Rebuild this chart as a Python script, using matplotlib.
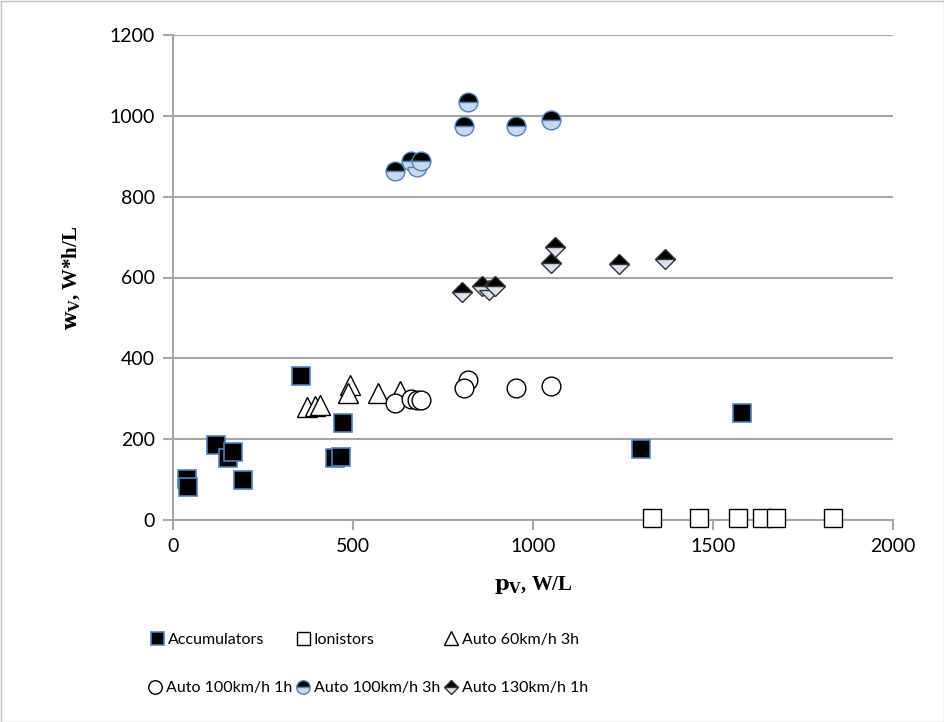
import matplotlib
matplotlib.use("Agg")
import matplotlib.pyplot as plt
from matplotlib.lines import Line2D
from matplotlib.patches import Rectangle

plt.rcParams["mathtext.fontset"] = "dejavuserif"

# ---- data ----
acc_x = [40, 42, 119, 153, 167, 195, 356, 472, 450, 467, 1300, 1580]
acc_y = [101, 82, 185, 153, 168, 99, 356, 239, 153, 156, 175, 265]

ion_x = [1330, 1460, 1570, 1636, 1675, 1833]
ion_y = [4, 4, 4, 4, 4, 4]

a60_x = [372, 394, 408, 492, 486, 570, 631]
a60_y = [279, 281, 284, 333, 313, 313, 318]

a100h1_x = [617, 661, 678, 689, 819, 808, 953, 1050]
a100h1_y = [289, 299, 296, 298, 346, 326, 326, 331]

a100h3_x = [617, 661, 678, 689, 808, 819, 953, 1050]
a100h3_y = [864, 888, 873, 888, 975, 1035, 975, 990]

a130_x = [802, 857, 877, 895, 1050, 1062, 1240, 1368]
a130_y = [563, 578, 570, 578, 635, 675, 633, 645]

x_ticks = [0, 500, 1000, 1500, 2000]
y_ticks = [0, 200, 400, 600, 800, 1000, 1200]

series_labels = ["Accumulators", "Ionistors", "Auto 60km/h 3h",
                 "Auto 100km/h 1h", "Auto 100km/h 3h", "Auto 130km/h 1h"]

# ---- styles ----
blue_edge = "#4F81BD"
light_blue = "#C6D9F1"
tick_font = "Lato"
serif = "Liberation Serif"

fig = plt.figure(figsize=(9.45, 7.22), dpi=100)
ax = fig.add_axes([173/945, 1-520/722, 720/945, (520-35)/722])

styles = [
    dict(marker="s", ms=13, mfc="black", mec=blue_edge, mew=1.2, ls="none"),
    dict(marker="s", ms=13, mfc="white", mec="black", mew=1.0, ls="none"),
    dict(marker="^", ms=14, mfc="white", mec="black", mew=1.0, ls="none"),
    dict(marker="o", ms=13.5, mfc="white", mec="black", mew=1.0, ls="none"),
    dict(marker="o", ms=13.5, mfc="black", mfcalt=light_blue, fillstyle="top",
         mec=blue_edge, mew=1.0, ls="none"),
    dict(marker="D", ms=10, mfc="black", mfcalt="#DCE3F0", fillstyle="top",
         mec="#333333", mew=1.0, ls="none"),
]
data = [(acc_x, acc_y), (ion_x, ion_y), (a60_x, a60_y),
        (a100h1_x, a100h1_y), (a100h3_x, a100h3_y), (a130_x, a130_y)]
for (xs, ys), st in zip(data, styles):
    ax.plot(xs, ys, zorder=3, clip_on=False, **st)

ax.set_xlim(0, 2000)
ax.set_ylim(0, 1200)
ax.set_xticks(x_ticks)
ax.set_yticks(y_ticks)
ax.set_xticklabels([str(v) for v in x_ticks], fontfamily=tick_font, fontsize=14)
ax.set_yticklabels([str(v) for v in y_ticks], fontfamily=tick_font, fontsize=14)

grid_c = "#A6A6A6"
ax.yaxis.grid(True, color=grid_c, lw=1.5)
ax.set_axisbelow(True)
for s in ["top", "right"]:
    ax.spines[s].set_visible(False)
for s in ["left", "bottom"]:
    ax.spines[s].set_color(grid_c)
    ax.spines[s].set_linewidth(1.5)
ax.tick_params(axis="both", colors=grid_c, labelcolor="black", length=7, width=1.5)
ax.tick_params(axis="x", pad=6)
ax.tick_params(axis="y", pad=6)

ax.set_xlabel(r"$\mathbf{p}_\mathbf{V}$, W/L", fontfamily=serif, fontsize=15,
              fontweight="bold", labelpad=14)
ax.set_ylabel(r"$\mathbf{w}_\mathbf{V}$, W*h/L", fontfamily=serif, fontsize=15,
              fontweight="bold", labelpad=20)

# ---- legend ----
leg_pos = [(150, 640), (296, 640), (444, 640), (148, 688), (296, 688), (444, 688)]
for lab, st, (px, py) in zip(series_labels, styles, leg_pos):
    st2 = dict(st)
    st2["ms"] = st["ms"] * 0.72
    h = Line2D([], [], **st2)
    fig.legend([h], [lab], loc="center left",
               bbox_to_anchor=(px/945, 1-py/722), frameon=False,
               prop={"family": tick_font, "size": 11.5},
               handlelength=0.9, handletextpad=0.2, borderpad=0, borderaxespad=0)

fig.add_artist(Rectangle((0.5/945, 0.5/722), 1-1.5/945, 1-1.5/722,
                         transform=fig.transFigure, fill=False,
                         edgecolor="#BFBFBF", lw=1))

fig.savefig("out.png", dpi=100)
